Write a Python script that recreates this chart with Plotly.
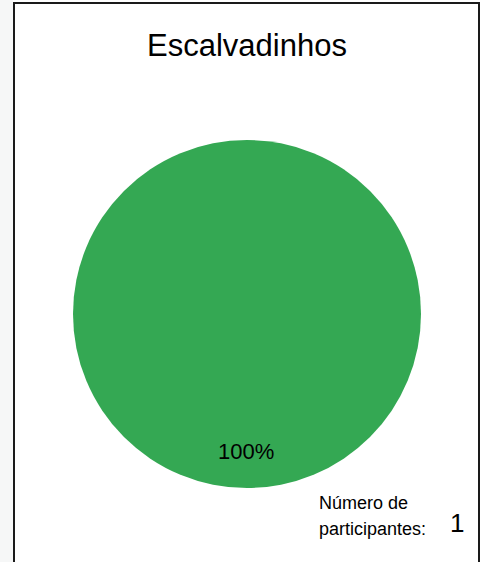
import plotly.graph_objects as go

# Participation by locality
labels = ["Escalvadinhos"]
participants = [1]
slice_colors = ["#34A853"]

title_text = "Escalvadinhos"
count_label_lines = ["Número de", "participantes:"]

W, H = 486, 562
FONT = "Liberation Sans, Arial, sans-serif"

total = sum(participants)
pct_text = f"{participants[0] / total * 100:.0f}%"


def px(x):
    return x / W


def py(y):
    return 1 - y / H


fig = go.Figure(
    go.Pie(
        labels=labels,
        values=participants,
        marker=dict(colors=slice_colors, line=dict(width=0)),
        textinfo="none",
        hoverinfo="label+percent",
        sort=False,
        showlegend=False,
        domain=dict(x=[px(73), px(421)], y=[py(488), py(140)]),
    )
)

annotations = [
    dict(text=title_text, x=px(246.5), y=py(45), font=dict(size=31)),
    dict(text=pct_text, x=px(246), y=py(451), font=dict(size=22)),
    dict(text=count_label_lines[0], x=px(317), y=py(503), xanchor="left", font=dict(size=18)),
    dict(text=count_label_lines[1], x=px(317), y=py(529), xanchor="left", font=dict(size=18)),
    dict(text=str(total), x=px(457), y=py(523), font=dict(size=26)),
]
for a in annotations:
    a.setdefault("xanchor", "center")
    a.update(xref="paper", yref="paper", yanchor="middle", showarrow=False)
    a["font"].update(family=FONT, color="#000000")

shapes = [
    # faint backdrop strip on the left edge
    dict(type="rect", xref="paper", yref="paper", x0=0, x1=px(13), y0=py(562), y1=py(0),
         fillcolor="#f6f7f7", line=dict(width=0), layer="below"),
    # frame around the chart
    dict(type="rect", xref="paper", yref="paper", x0=px(14), x1=px(479), y0=py(575), y1=py(3),
         line=dict(color="#1a1a1a", width=2), fillcolor="rgba(0,0,0,0)"),
]

fig.update_layout(
    width=W,
    height=H,
    margin=dict(l=0, r=0, t=0, b=0),
    paper_bgcolor="#ffffff",
    plot_bgcolor="#ffffff",
    annotations=annotations,
    shapes=shapes,
)

fig.write_html("out.html")
